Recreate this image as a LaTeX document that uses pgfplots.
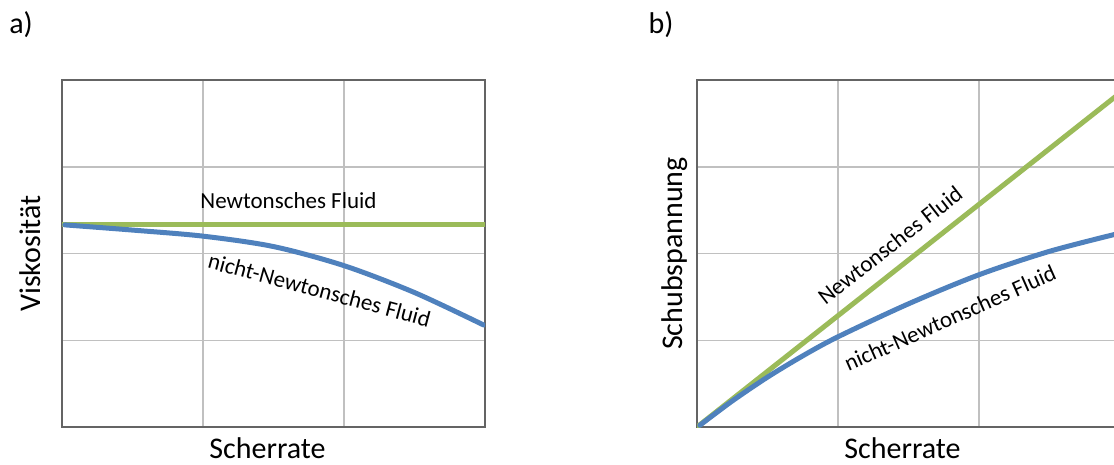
\documentclass[border=0pt]{standalone}
\usepackage{fontspec}
\setmainfont{Carlito}
\usepackage{pgfplots}
\pgfplotsset{compat=1.18}
\definecolor{ngreen}{HTML}{9BBB59}
\definecolor{nblue}{HTML}{4F81BD}
\definecolor{gridc}{RGB}{192,192,192}
\definecolor{framec}{RGB}{100,100,100}
\pgfplotsset{
  panel/.style={
    scale only axis, width=423pt, height=347pt,
    xmin=0, xmax=3, ymin=0, ymax=4,
    xtick={0,1,2,3}, ytick={0,1,2,3,4},
    xticklabels={}, yticklabels={},
    major tick length=0pt,
    grid=major,
    major grid style={gridc, line width=1.5pt},
    axis line style={framec, line width=2pt},
  },
  curve/.style={line width=5pt, line cap=round, line join=round},
}
\newcommand{\lab}{\fontsize{30}{36}\selectfont}
\newcommand{\ann}{\fontsize{23}{28}\selectfont}
\begin{document}
\begin{tikzpicture}[x=1pt,y=1pt]
\useasboundingbox (0,0) rectangle (1114,464);
\clip (0,0) rectangle (1114,464);
% ---- panel a
\begin{axis}[panel, name=a, at={(62pt,37pt)}, anchor=south west]
\addplot[curve, ngreen] coordinates {(0,2.34) (3,2.34)};
\addplot[curve, nblue, smooth] coordinates {
 (0.02,2.33) (0.5,2.27) (1.0,2.20) (1.5,2.08) (2.0,1.86) (2.5,1.55) (2.99,1.176)};
\node[font=\ann] at (axis cs:1.606,2.605) {Newtonsches Fluid};
\node[font=\ann, rotate=-15] at (axis cs:1.826,1.58) {nicht-Newtonsches Fluid};
\end{axis}
\node[font=\lab] at ([xshift=-6pt,yshift=-21pt]a.south) {Scherrate};
\node[font=\lab, rotate=90] at ([xshift=-32pt]a.west) {Viskosität};
\node[font=\lab] at (21,439) {a)};
% ---- panel b
\begin{axis}[panel, name=b, at={(697pt,37pt)}, anchor=south west]
\addplot[curve, ngreen] coordinates {(0,0) (3,3.85)};
\addplot[curve, nblue, smooth] coordinates {
 (0.02,0.02) (0.25,0.30) (0.5,0.575) (0.75,0.82) (1.0,1.04) (1.5,1.42)
 (2.0,1.755) (2.5,2.025) (3.0,2.235)};
\node[font=\ann, rotate=38] at (axis cs:1.369,2.098) {Newtonsches Fluid};
\node[font=\ann, rotate=24] at (axis cs:1.794,1.256) {nicht-Newtonsches Fluid};
\end{axis}
\node[font=\lab] at ([xshift=-6pt,yshift=-21pt]b.south) {Scherrate};
\node[font=\lab, rotate=90] at ([xshift=-22pt]b.west) {Schubspannung};
\node[font=\lab] at (661,439) {b)};
\end{tikzpicture}
\end{document}
